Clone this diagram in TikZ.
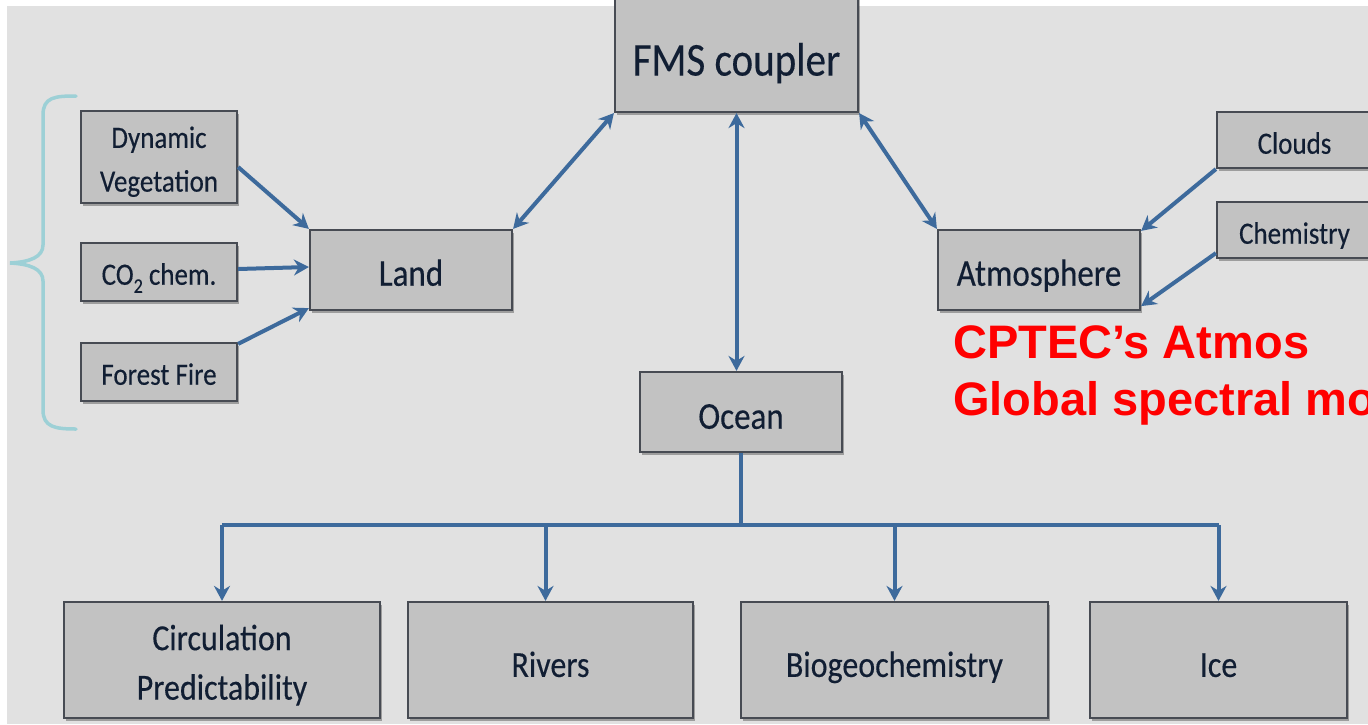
\documentclass[tikz,border=0pt]{standalone}
\usepackage{fontspec}
\usepackage{graphicx}
\setmainfont{Carlito}
\newfontfamily\lab[FakeBold=0.35]{Carlito}
\newfontfamily\redfont{Liberation Sans}
\usetikzlibrary{arrows.meta,shadows}
\definecolor{bg}{HTML}{E1E1E1}
\definecolor{boxfill}{HTML}{C2C2C2}
\definecolor{boxline}{HTML}{474B53}
\definecolor{arrowblue}{HTML}{3D6A9C}
\definecolor{txt}{HTML}{111E33}
\definecolor{bracecol}{HTML}{9DD0D6}
% labels are set slightly taller than wide, and sit a little low in their boxes
\newcommand{\st}[2][-7pt]{\raisebox{#1}[\height][\depth]{\scalebox{1}[1.15]{\begin{tabular}{@{}c@{}}#2\end{tabular}}}}
\tikzset{
  box/.style={draw=boxline, line width=2.2pt, fill=boxfill, text=txt, inner sep=0pt,
    drop shadow={shadow xshift=1.5pt, shadow yshift=-2.5pt, fill=black, opacity=0.3}},
  big/.style={box, font=\lab\fontsize{41}{46}\selectfont},
  mid/.style={box, font=\lab\fontsize{33}{38}\selectfont, minimum width=202pt, minimum height=80pt},
  small/.style={box, font=\lab\fontsize{27}{38}\selectfont, minimum width=156pt},
  low/.style={box, font=\lab\fontsize{32}{43}\selectfont, minimum height=116pt},
  tip/.style={-{Stealth[length=15pt,width=16pt]}},
  link/.style={arrowblue, line width=4pt, tip},
  duo/.style={arrowblue, line width=4pt, {Stealth[length=15pt,width=16pt]}-{Stealth[length=15pt,width=16pt]}},
  busline/.style={arrowblue, line width=4pt},
  redtext/.style={text=red, anchor=base west, inner sep=0pt,
    font=\redfont\bfseries\fontsize{47}{52}\selectfont}
}
\begin{document}
\begin{tikzpicture}[x=1pt, y=-1pt]
\useasboundingbox (0,0) rectangle (1368,724);
\clip (0,0) rectangle (1368,724);
% background
\fill[bg] (0,0) rectangle (1368,724);
\fill[white] (0,0) rectangle (1368,6);
\fill[white] (0,0) rectangle (7,724);

% coupler and components
\node[big, minimum width=243pt, minimum height=118pt] (fms) at (736.5,53) {\st[-12pt]{FMS coupler}};
\node[mid] (land) at (411,270) {\st{Land}};
\node[mid] (atm) at (1039,270) {\st{Atmosphere}};
\node[mid] (ocean) at (741,412) {\st[-8pt]{Ocean}};

% land sub-components
\node[small, minimum height=92pt] (dyn) at (159,157) {\st[-4pt]{Dynamic\\Vegetation}};
\node[small, minimum height=58pt] (co2) at (159,272) {\st[-4pt]{CO\raisebox{-7pt}{\fontsize{18}{18}\selectfont 2} chem.}};
\node[small, minimum height=58pt] (fire) at (159,372) {\st[-4pt]{Forest Fire}};

% atmosphere sub-components
\node[small, minimum width=155pt, minimum height=56pt] (clouds) at (1294.5,140) {\st[-5pt]{Clouds}};
\node[small, minimum width=155pt, minimum height=56pt] (chem) at (1294.5,230) {\st[-5pt]{Chemistry}};

% ocean sub-components
\node[low, minimum width=316pt] (circ) at (222,660) {\st[-5pt]{Circulation\\Predictability}};
\node[low, minimum width=285pt] (rivers) at (550.5,660) {\st{Rivers}};
\node[low, minimum width=307pt] (bio) at (894.5,660) {\st{Biogeochemistry}};
\node[low, minimum width=257pt] (ice) at (1218.5,660) {\st{Ice}};

% brace grouping the land sub-components
\draw[bracecol, line width=3.5pt, line cap=round]
  (76,96) .. controls (55,96) and (43,97) .. (43,115) -- (43,245)
  .. controls (43,257) and (30,262) .. (10,263)
  .. controls (30,264) and (43,269) .. (43,281) -- (43,410)
  .. controls (43,427) and (55,429) .. (76,429);

% coupler exchanges
\draw[duo] (fms.south west) -- (land.north east);
\draw[duo] (fms.south) -- (fms.south |- ocean.north);
\draw[duo] (fms.south east) -- (atm.north west);

% inputs to land
\draw[link] ([yshift=-10pt]dyn.east) -- (land.north west);
\draw[link] ([yshift=3pt]co2.east) -- ([yshift=3pt]land.west);
\draw[link] ([yshift=-2pt]fire.north east) -- ([yshift=3pt]land.south west);

% inputs to atmosphere
\draw[link] (clouds.south west) -- ([yshift=-2pt]atm.north east);
\draw[link] ([yshift=6pt]chem.south west) -- ([yshift=5pt]atm.south east);

% ocean distribution bus
\coordinate (bus) at (741,525);
\draw[busline] (ocean.south) -- (bus);
\draw[busline] (circ.north |- bus) -- (ice.north |- bus);
\draw[link] (circ.north |- bus) -- (circ.north);
\draw[link] ([xshift=-5pt]rivers.north |- bus) -- ([xshift=-5pt]rivers.north);
\draw[link] (bio.north |- bus) -- (bio.north);
\draw[link] (ice.north |- bus) -- (ice.north);

% annotation
\node[redtext] (red1) at (953,358) {CPTEC’s Atmos};
\node[redtext] (red2) at (953,415) {Global spectral mo};
\end{tikzpicture}
\end{document}
